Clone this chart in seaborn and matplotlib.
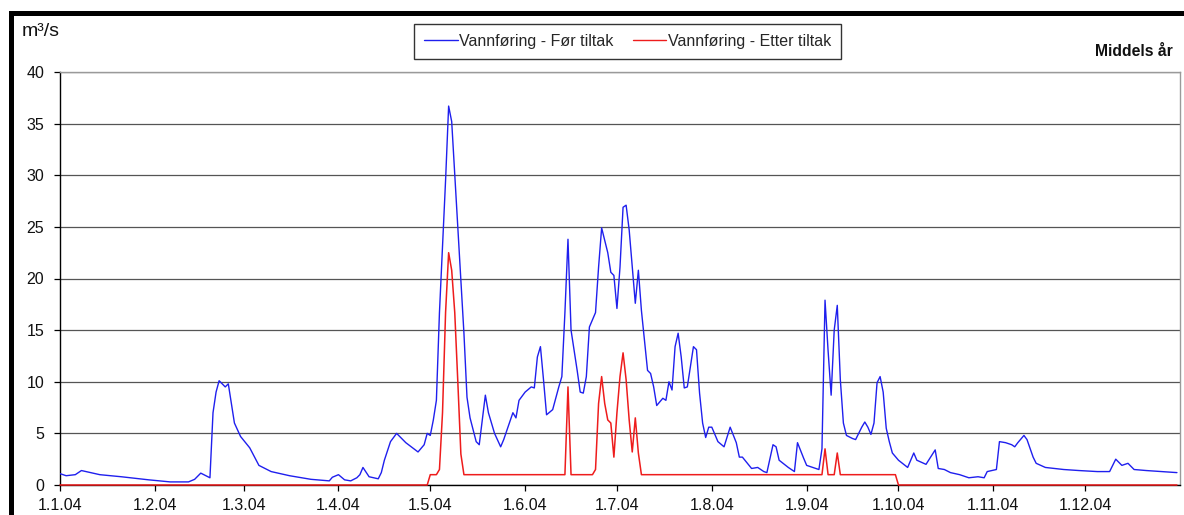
import pandas as pd
import matplotlib
matplotlib.use("Agg")
import matplotlib.pyplot as plt
import seaborn as sns
from matplotlib.lines import Line2D
from matplotlib.patches import Rectangle

# Discharge (m³/s) per day of year 2004, day 0 = 1 January
before_days = [0, 2, 5, 7, 13, 20, 29,
               36, 42, 44, 46, 47, 49, 50, 51, 52, 54, 55, 57, 59,
               62, 65, 69, 75, 82, 88, 89,
               91, 93, 95, 97, 98, 99, 101, 104, 105, 106, 108, 110, 111, 113, 117, 119, 120,
               121, 122, 123, 124, 126, 127, 128, 130, 132, 133, 134, 136, 137, 139, 140, 142,
               144, 145, 148, 149, 150,
               152, 154, 155, 156, 157, 158, 159, 161, 163, 164, 165, 166, 167, 169, 170, 171,
               172, 173, 175, 176, 177, 179, 180, 181,
               182, 183, 184, 185, 186, 187, 188, 189, 190, 192, 193, 194, 195, 197, 198, 199,
               200, 201, 202, 203, 204, 205, 207, 208, 209, 210, 211,
               212, 213, 215, 217, 219, 221, 222, 223, 226, 228, 230, 231, 233, 234, 235, 238, 240,
               241, 243, 244, 246, 248, 249, 250, 251, 252, 253, 254, 255, 256, 257, 259, 260,
               262, 263, 264, 265, 266, 267, 268, 269, 270, 271, 272,
               274, 277, 279, 280, 283, 286, 287, 289, 291, 294, 297, 300, 302, 303,
               306, 307, 309, 311, 312, 313, 315, 316, 318, 319, 322, 328, 333,
               339, 343, 344, 345, 347, 349, 351, 355, 360, 365]
before_flow = [1.1, 0.9, 1.0, 1.4, 1.0, 0.8, 0.5,
               0.3, 0.3, 0.55, 1.15, 1.0, 0.7, 7.0, 9.0, 10.1, 9.5, 9.8, 6.0, 4.7,
               3.6, 1.9, 1.3, 0.9, 0.55, 0.4, 0.75,
               1.0, 0.5, 0.4, 0.7, 1.0, 1.7, 0.8, 0.6, 1.2, 2.4, 4.2, 5.0, 4.7, 4.1, 3.2, 3.9, 5.0,
               4.8, 6.3, 8.2, 16.7, 29.5, 36.7, 35.2, 25.0, 14.7, 8.5, 6.5, 4.2, 3.9, 8.7, 7.0, 5.0,
               3.7, 4.4, 7.0, 6.5, 8.2,
               9.0, 9.5, 9.4, 12.4, 13.4, 10.2, 6.8, 7.3, 9.5, 10.5, 16.7, 23.8, 15.0, 11.1, 9.0, 8.9,
               10.5, 15.3, 16.7, 21.1, 24.9, 22.5, 20.6, 20.3,
               17.1, 21.1, 26.9, 27.1, 24.7, 21.1, 17.6, 20.8, 16.9, 11.1, 10.8, 9.5, 7.7, 8.4, 8.2, 10.0,
               9.2, 13.4, 14.7, 12.4, 9.4, 9.5, 13.4, 13.1, 8.9, 6.0, 4.6,
               5.6, 5.6, 4.2, 3.7, 5.6, 4.1, 2.7, 2.7, 1.6, 1.7, 1.3, 1.2, 3.9, 3.7, 2.4, 1.7, 1.3,
               4.1, 2.6, 1.9, 1.7, 1.5, 3.5, 17.9, 13.0, 8.7, 15.0, 17.4, 10.2, 6.0, 4.8, 4.5, 4.4,
               5.6, 6.1, 5.6, 4.9, 6.0, 9.9, 10.5, 9.0, 5.5, 4.2, 3.1,
               2.4, 1.7, 3.1, 2.4, 2.0, 3.4, 1.6, 1.5, 1.2, 1.0, 0.7, 0.8, 0.7, 1.3,
               1.5, 4.2, 4.1, 3.9, 3.7, 4.1, 4.8, 4.4, 2.7, 2.1, 1.7, 1.5, 1.4,
               1.3, 1.3, 1.9, 2.5, 1.9, 2.1, 1.5, 1.4, 1.3, 1.2]

after_days = [0, 120, 121, 123, 124, 125, 126, 127, 128, 129, 130, 131, 132,
              165, 166, 167, 174, 175, 176, 177, 178, 179, 180, 181, 182, 183, 184,
              185, 186, 187, 188, 189, 190, 249, 250, 251, 253, 254, 255, 273, 274, 365]
after_flow = [0.0, 0.0, 1.0, 1.0, 1.5, 7.0, 16.7, 22.5, 20.8, 16.7, 10.0, 3.0, 1.0,
              1.0, 9.5, 1.0, 1.0, 1.5, 7.9, 10.5, 7.9, 6.3, 6.0, 2.7, 7.0, 10.5, 12.8,
              10.2, 6.3, 3.2, 6.5, 3.1, 1.0, 1.0, 3.5, 1.0, 1.0, 3.1, 1.0, 1.0, 0.0, 0.0]

series_names = ["Vannføring - Før tiltak", "Vannføring - Etter tiltak"]
month_labels = ["1.1.04", "1.2.04", "1.3.04", "1.4.04", "1.5.04", "1.6.04",
                "1.7.04", "1.8.04", "1.9.04", "1.10.04", "1.11.04", "1.12.04"]
y_ticks = [0, 5, 10, 15, 20, 25, 30, 35, 40]

assert len(before_days) == len(before_flow)
assert len(after_days) == len(after_flow)

start = pd.Timestamp("2004-01-01")
before = pd.DataFrame({"dato": start + pd.to_timedelta(before_days, unit="D"),
                       "vannforing": before_flow})
after = pd.DataFrame({"dato": start + pd.to_timedelta(after_days, unit="D"),
                      "vannforing": after_flow})
month_starts = pd.date_range("2004-01-01", periods=12, freq="MS")

BLUE = "#1f1fee"
RED = "#ee1c1c"

sns.set_theme(style="white")
plt.rcParams["font.family"] = ["Liberation Sans", "DejaVu Sans"]

W, H = 1184, 515
fig = plt.figure(figsize=(W / 100, H / 100), dpi=100)
ax = fig.add_axes([60 / W, 30 / H, 1120 / W, 413 / H])

sns.lineplot(data=before, x="dato", y="vannforing", color=BLUE, linewidth=1.0,
             ax=ax, legend=False, zorder=3)
sns.lineplot(data=after, x="dato", y="vannforing", color=RED, linewidth=1.1,
             ax=ax, legend=False, zorder=4, clip_on=False)

ax.set_xlim(pd.Timestamp("2004-01-01"), pd.Timestamp("2005-01-01"))
ax.set_ylim(0, 40)
ax.set_xlabel("")
ax.set_ylabel("")
ax.set_yticks(y_ticks)
ax.set_yticklabels([str(v) for v in y_ticks])
ax.set_xticks(month_starts)
ax.set_xticklabels(month_labels)

ax.grid(axis="y", color="#555555", linewidth=0.9)
ax.grid(axis="x", visible=False)
ax.set_axisbelow(True)

for side in ("left", "bottom"):
    ax.spines[side].set_color("black")
    ax.spines[side].set_linewidth(1.0)
for side in ("top", "right"):
    ax.spines[side].set_color("#9a9a9a")
    ax.spines[side].set_linewidth(1.0)

ax.tick_params(axis="both", which="major", direction="out", length=4.5, width=0.9,
               color="black", labelsize=11.5, labelcolor="#111111")
ax.tick_params(axis="y", pad=7, left=True)
ax.tick_params(axis="x", pad=5, bottom=True)

# Unit label and period label
fig.text(22 / W, 1 - 32 / H, "m³/s", fontsize=14, ha="left", va="center", color="#111111")
fig.text(1173 / W, 1 - 52 / H, "Middels år", fontsize=11.3, fontweight="bold",
         ha="right", va="center", color="#111111")

# Legend across the top
handles = [Line2D([], [], color=BLUE, linewidth=1.0),
           Line2D([], [], color=RED, linewidth=1.0)]
leg = fig.legend(handles, series_names, ncol=2, loc="center",
                 bbox_to_anchor=(627.5 / W, 1 - 41.5 / H), frameon=True, fancybox=False,
                 shadow=False, framealpha=1, edgecolor="#333333", fontsize=11.5,
                 handlelength=2.1, handletextpad=0.1, columnspacing=1.2,
                 borderpad=0.6, borderaxespad=0)
leg.get_frame().set_linewidth(1.0)

# Heavy outer frame of the chart
fig.patches.append(Rectangle((10.5 / W, -0.05), 1.2, (H - 13) / H + 0.05,
                             transform=fig.transFigure, fill=False,
                             edgecolor="black", linewidth=3.6))

fig.savefig("out.png", dpi=100)
